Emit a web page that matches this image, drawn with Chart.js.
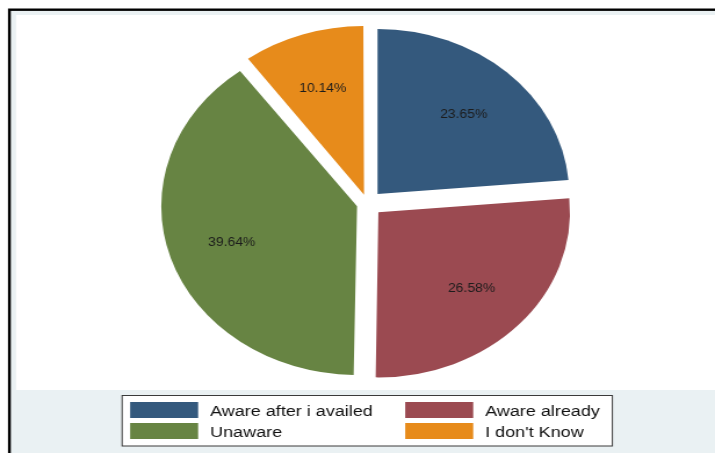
<!DOCTYPE html>
<html>
<head>
<meta charset="utf-8">
<script src="https://cdn.jsdelivr.net/npm/chart.js@4/dist/chart.umd.min.js"></script>
<style>
  html, body { margin: 0; padding: 0; background: #fff; }
  /* graph is drawn at 616 wide and stretched out to the 715 px window */
  #stage { width: 616px; height: 453px; transform: scaleX(1.1607); transform-origin: 0 0; }
</style>
</head>
<body>
<div id="stage"><canvas id="awareChart"></canvas></div>
<script>
var categories = ['Aware after i availed', 'Aware already', 'Unaware', "I don't Know"];
var shares = [23.65, 26.58, 39.64, 10.14];
var sliceColors = ['#34597d', '#9b4a51', '#678443', '#e78b1b'];

var EXPLODE = 13;      // px every slice is pulled out from the centre
var FONT = '"Liberation Sans", Arial, sans-serif';

var total = shares.reduce(function(a, b) { return a + b; }, 0);

// chart.js pushes slices out by offset/4 * (2 - sin(angle)), undo that so all move the same
function sliceOffset(ctx) {
    var circ = shares[ctx.dataIndex] / total * Math.PI * 2;
    return 4 * EXPLODE / (2 - Math.sin(Math.min(Math.PI, circ)));
}

// grey graph region, black outer line and the white plot area
var frame = {
    id: 'frame',
    beforeDraw: function(chart) {
        var ctx = chart.ctx;
        ctx.save();
        ctx.fillStyle = '#ffffff';
        ctx.fillRect(0, 0, chart.width, chart.height);
        ctx.fillStyle = '#eaf1f3';
        ctx.fillRect(8.1, 9.7, 700, 500);
        ctx.fillStyle = '#ffffff';
        ctx.fillRect(13.8, 15, 700, 375);
        ctx.strokeStyle = '#000000';
        ctx.lineWidth = 2.4;
        ctx.strokeRect(8.1, 9.7, 700, 500);
        ctx.restore();
    }
};

var sliceLabels = {
    id: 'sliceLabels',
    afterDatasetsDraw: function(chart) {
        var ctx = chart.ctx;
        var meta = chart.getDatasetMeta(0);
        ctx.save();
        ctx.font = '12px ' + FONT;
        ctx.fillStyle = '#1c1c1c';
        ctx.textAlign = 'center';
        ctx.textBaseline = 'middle';
        meta.data.forEach(function(arc, i) {
            var p = arc.getProps(['x', 'y', 'startAngle', 'endAngle', 'outerRadius', 'circumference'], true);
            var mid = (p.startAngle + p.endAngle) / 2;
            var r = EXPLODE + 0.665 * p.outerRadius;
            ctx.fillText(shares[i].toFixed(2) + '%', p.x + Math.cos(mid) * r, p.y + 1.5 + Math.sin(mid) * r);
        });
        ctx.restore();
    }
};

// two column key in a boxed frame under the pie
var keyBox = {
    id: 'keyBox',
    afterDraw: function(chart) {
        var ctx = chart.ctx;
        ctx.save();
        ctx.fillStyle = '#ffffff';
        ctx.fillRect(105.2, 395, 422.4, 51);
        ctx.strokeStyle = '#3a3a3a';
        ctx.lineWidth = 1;
        ctx.strokeRect(105.2, 395.5, 422.4, 50.5);
        ctx.font = '15.5px ' + FONT;
        ctx.textBaseline = 'alphabetic';
        ctx.textAlign = 'left';
        categories.forEach(function(name, i) {
            var col = i % 2, row = Math.floor(i / 2);
            var bx = col ? 349.1 : 112.1;
            var by = row ? 423 : 402;
            ctx.fillStyle = sliceColors[i];
            ctx.fillRect(bx, by, 58.6, 16);
            ctx.fillStyle = '#111111';
            ctx.fillText(name, bx + 68.9, by + 13.8);
        });
        ctx.restore();
    }
};

new Chart(document.getElementById('awareChart'), {
    type: 'pie',
    data: {
        labels: categories,
        datasets: [{
            data: shares,
            backgroundColor: sliceColors,
            borderWidth: 0,
            radius: 165,
            offset: sliceOffset
        }]
    },
    options: {
        responsive: true,
        maintainAspectRatio: false,
        animation: false,
        layout: { padding: { left: 17, right: 0, top: 0, bottom: 46 } },
        plugins: {
            legend: { display: false },
            tooltip: { enabled: false }
        }
    },
    plugins: [frame, sliceLabels, keyBox]
});
</script>
</body>
</html>
